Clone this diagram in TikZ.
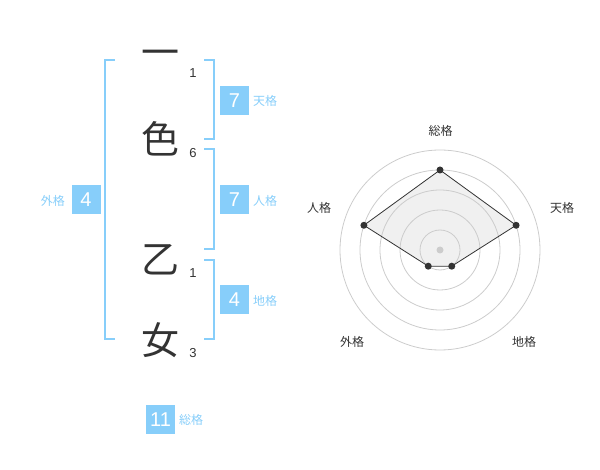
\documentclass[tikz,border=0pt]{standalone}
\usepackage{fontspec}
\usetikzlibrary{calc}
\setmainfont{Liberation Sans}
\newfontfamily\cjk{Noto Sans CJK JP}
\definecolor{sky}{RGB}{135,206,250}
\definecolor{ink}{RGB}{51,51,51}
\definecolor{ring}{RGB}{204,204,204}
\definecolor{area}{RGB}{240,240,240}
\begin{document}
\begin{tikzpicture}[x=1pt,y=-1pt,
  kanji/.style={font=\cjk\fontsize{38}{38}\selectfont, text=ink, inner sep=0pt},
  strokes/.style={font=\fontsize{13}{13}\selectfont, text=ink, inner sep=0pt},
  numbox/.style={fill=sky, text=white, minimum width=29pt, minimum height=29pt, inner sep=0pt, font=\fontsize{20}{20}\selectfont},
  kaku/.style={font=\cjk\fontsize{12}{12}\selectfont, text=sky, inner sep=0pt},
  bracket/.style={draw=sky, line width=2pt},
  axislabel/.style={font=\cjk\fontsize{12}{12}\selectfont, text=ink, inner sep=0pt},
  ringline/.style={draw=ring, line width=0.8pt},
  dot/.style={circle, fill=ink, inner sep=0pt, minimum size=7pt},
]
\useasboundingbox (0,0) rectangle (600,470);
% characters
\node[kanji] (c1) at (160,58) {一};
\node[kanji] (c2) at (160,139) {色};
\node[kanji] (c3) at (160,260) {乙};
\node[kanji] (c4) at (160,340) {女};
\node[strokes] (s1) at (193,73) {1};
\node[strokes] (s2) at (193,153) {6};
\node[strokes] (s3) at (193,273) {1};
\node[strokes] (s4) at (193,353) {3};
% brackets
\draw[bracket] (115,60) -- (105,60) -- (105,339) -- (115,339);
\draw[bracket] (204,60) -- (214,60) -- (214,139) -- (204,139);
\draw[bracket] (204,149) -- (214,149) -- (214,249) -- (204,249);
\draw[bracket] (204,260) -- (214,260) -- (214,339) -- (204,339);
% boxes
\node[numbox] (ten) at (234.5,100.5) {7};
\node[kaku, anchor=west] (tenl) at (253,101) {天格};
\node[numbox] (jin) at (234.5,200) {7};
\node[kaku, anchor=west] (jinl) at (253,201) {人格};
\node[numbox] (chi) at (234.5,300) {4};
\node[kaku, anchor=west] (chil) at (253,301) {地格};
\node[numbox] (gai) at (86,200) {4};
\node[kaku, anchor=east] (gail) at (65,201) {外格};
\node[numbox] (sou) at (160.5,419.5) {11};
\node[kaku, anchor=west] (soul) at (179,420) {総格};
% radar
\coordinate (O) at (440,250);
\coordinate (pS) at ($(O)+(0,-80)$);
\coordinate (pT) at ($(O)+({80*cos(18)},{-80*sin(18)})$);
\coordinate (pC) at ($(O)+({20*cos(54)},{20*sin(54)})$);
\coordinate (pG) at ($(O)+({-20*cos(54)},{20*sin(54)})$);
\coordinate (pJ) at ($(O)+({-80*cos(18)},{-80*sin(18)})$);
\fill[area] (pS) -- (pT) -- (pC) -- (pG) -- (pJ) -- cycle;
\foreach \r in {20,40,60,80,100} \draw[ringline] (O) circle[radius=\r];
\fill[ring] (O) circle[radius=3.5];
\draw[ink, line width=0.8pt] (pS) -- (pT) -- (pC) -- (pG) -- (pJ) -- cycle;
\foreach \p in {pS,pT,pC,pG,pJ} \node[dot] at (\p) {};
\node[axislabel] (lS) at (440.5,130.5) {総格};
\node[axislabel] (lT) at (562,208) {天格};
\node[axislabel] (lJ) at (319,208) {人格};
\node[axislabel] (lG) at (352,342) {外格};
\node[axislabel] (lC) at (524,342) {地格};
\end{tikzpicture}
\end{document}
